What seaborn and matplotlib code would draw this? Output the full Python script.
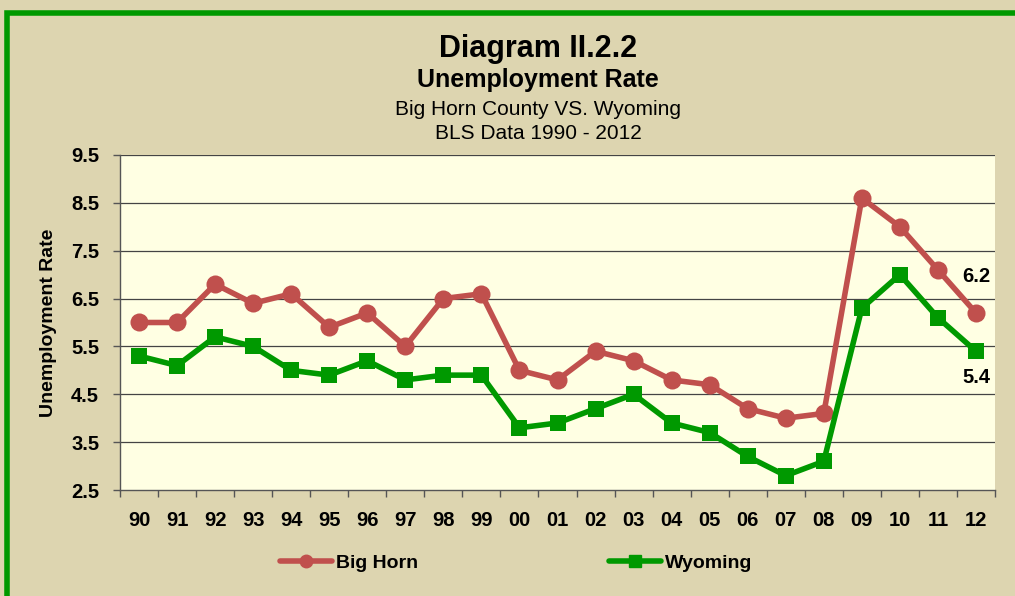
import seaborn as sns
import matplotlib.pyplot as plt
import pandas as pd
from matplotlib.patches import Rectangle
from matplotlib.lines import Line2D

sns.set_theme(style="white")
plt.rcParams['font.family'] = ['Liberation Sans', 'DejaVu Sans']
plt.rcParams['text.color'] = 'black'
plt.rcParams['axes.labelcolor'] = 'black'

years = ['90', '91', '92', '93', '94', '95', '96', '97', '98', '99', '00',
         '01', '02', '03', '04', '05', '06', '07', '08', '09', '10', '11', '12']
big_horn = [6.0, 6.0, 6.8, 6.4, 6.6, 5.9, 6.2, 5.5, 6.5, 6.6, 5.0,
            4.8, 5.4, 5.2, 4.8, 4.7, 4.2, 4.0, 4.1, 8.6, 8.0, 7.1, 6.2]
wyoming = [5.3, 5.1, 5.7, 5.5, 5.0, 4.9, 5.2, 4.8, 4.9, 4.9, 3.8,
           3.9, 4.2, 4.5, 3.9, 3.7, 3.2, 2.8, 3.1, 6.3, 7.0, 6.1, 5.4]
yticks = [2.5, 3.5, 4.5, 5.5, 6.5, 7.5, 8.5, 9.5]

red = '#C0504D'
green = '#009900'
bg = '#DDD5B0'

df = pd.DataFrame({'idx': range(len(years)), 'year': years,
                   'Big Horn': big_horn, 'Wyoming': wyoming})

fig = plt.figure(figsize=(10.15, 5.96), dpi=100, facecolor=bg)
fig.patches.append(Rectangle((7/1015, -0.2), 1.2, 1 - 13/596 + 0.2,
                             transform=fig.transFigure, fill=False,
                             edgecolor=green, linewidth=4, zorder=10))

ax = fig.add_axes([120/1015, 1 - 490/596, 875/1015, 335/596])
ax.set_facecolor('#FFFFE3')

for y in yticks[1:]:
    ax.axhline(y, color='#444444', linewidth=0.9, zorder=1)

sns.lineplot(data=df, x='idx', y='Big Horn', color=red, linewidth=4,
             marker='o', markersize=13, markeredgewidth=0, ax=ax, zorder=3)
sns.lineplot(data=df, x='idx', y='Wyoming', color=green, linewidth=4,
             marker='s', markersize=12, markeredgewidth=0, ax=ax, zorder=3)

ax.set_xlim(-0.5, len(years) - 0.5)
ax.set_ylim(2.5, 9.5)
ax.set_xticks(range(len(years)))
ax.set_xticklabels(years, fontsize=14.5, fontweight='bold')
ax.set_xticks([i - 0.5 for i in range(len(years) + 1)], minor=True)
ax.tick_params(axis='x', which='major', length=0, pad=15, labelcolor='black')
ax.tick_params(axis='x', which='minor', length=5, direction='out',
               color='#555555', width=1, bottom=True)
ax.set_yticks(yticks)
ax.set_yticklabels([f'{v:.1f}' for v in yticks], fontsize=14.5, fontweight='bold')
ax.tick_params(axis='y', length=5, direction='out', color='#555555', width=1,
               left=True, pad=10, labelcolor='black')
ax.set_xlabel('')
ax.set_ylabel('Unemployment Rate', fontsize=14, fontweight='bold')
ax.yaxis.set_label_coords(-63/875, 0.5)

for s in ['top', 'right']:
    ax.spines[s].set_visible(False)
for s in ['left', 'bottom']:
    ax.spines[s].set_color('#555555')
    ax.spines[s].set_linewidth(1)

ax.annotate(f'{big_horn[-1]:.1f}', (len(years) - 1, big_horn[-1]),
            xytext=(0, 26), textcoords='offset points', ha='center',
            va='center', fontsize=14.5, fontweight='bold')
ax.annotate(f'{wyoming[-1]:.1f}', (len(years) - 1, wyoming[-1]),
            xytext=(0, -19), textcoords='offset points', ha='center',
            va='center', fontsize=14.5, fontweight='bold')

cx = 538 / 1015
fig.text(cx, 1 - 57/596, 'Diagram II.2.2', ha='center', va='baseline',
         fontsize=22, fontweight='bold')
fig.text(cx, 1 - 87/596, 'Unemployment Rate', ha='center', va='baseline',
         fontsize=18, fontweight='bold')
fig.text(cx, 1 - 115/596, 'Big Horn County VS. Wyoming', ha='center',
         va='baseline', fontsize=15)
fig.text(cx, 1 - 139/596, 'BLS Data 1990 - 2012', ha='center', va='baseline',
         fontsize=15)

handles = [Line2D([], [], color=red, linewidth=4, marker='o', markersize=9),
           Line2D([], [], color=green, linewidth=4, marker='s', markersize=9)]
leg = fig.legend(handles, ['Big Horn', 'Wyoming'], loc='center',
                 bbox_to_anchor=(516/1015, 1 - 563/596), ncol=2,
                 frameon=False, handlelength=2.7, handletextpad=0.2,
                 columnspacing=9.8, prop={'size': 14, 'weight': 'bold'})

fig.savefig('out.png', dpi=100, facecolor=bg)
